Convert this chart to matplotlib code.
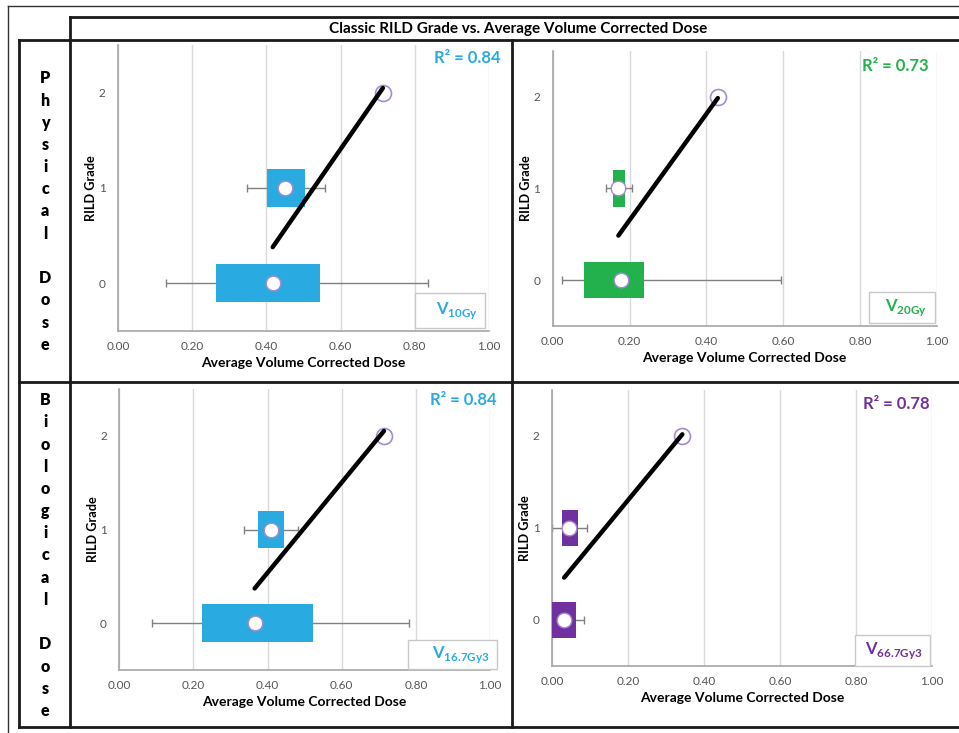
import numpy as np
import matplotlib.pyplot as plt
from matplotlib.patches import Rectangle

plt.rcParams['font.family'] = ['Lato', 'DejaVu Sans']
plt.rcParams['mathtext.fontset'] = 'custom'
plt.rcParams['mathtext.rm'] = 'Lato'
plt.rcParams['mathtext.bf'] = 'Lato:bold'

W, H = 959, 733

# RILD grades with a box (0, 1); grade 2 only has one patient mean
grades = [0, 1, 2]

# V10Gy, physical dose
v10_q1 = [0.264, 0.402]
v10_q3 = [0.544, 0.503]
v10_lo = [0.129, 0.349]
v10_hi = [0.835, 0.557]
v10_mean = [0.417, 0.451, 0.714]

# V20Gy, physical dose
v20_q1 = [0.081, 0.156]
v20_q3 = [0.238, 0.188]
v20_lo = [0.024, 0.138]
v20_hi = [0.595, 0.206]
v20_mean = [0.179, 0.171, 0.430]

# V16.7Gy3, biological dose
v167_q1 = [0.224, 0.373]
v167_q3 = [0.523, 0.443]
v167_lo = [0.087, 0.336]
v167_hi = [0.781, 0.481]
v167_mean = [0.365, 0.408, 0.714]

# V66.7Gy3, biological dose
v667_q1 = [0.0, 0.025]
v667_q3 = [0.062, 0.068]
v667_lo = [0.0, 0.0]
v667_hi = [0.083, 0.091]
v667_mean = [0.032, 0.044, 0.343]

r2_labels = ['0.84', '0.73', '0.84', '0.78']
dose_names = ['10Gy', '20Gy', '16.7Gy3', '66.7Gy3']
row_names = ['Physical Dose', 'Biological Dose']

blue = '#29ABE2'
green = '#22B14C'
purple = '#7030A0'
edge_purple = '#A58BD3'

fig = plt.figure(figsize=(W / 100, H / 100), dpi=100)

# background layer in pixel units for the table frame
bg = fig.add_axes([0, 0, 1, 1])
bg.set_xlim(0, W)
bg.set_ylim(H, 0)
bg.axis('off')

lc = '#1a1a1a'
bg.plot([8, 8], [6, H], color='#333333', lw=1)
bg.plot([8, W], [6, 6], color='#333333', lw=1)
for xs, ys in [([70, W], [17, 17]), ([19, W], [40, 40]), ([19, W], [382, 382]),
               ([19, W], [727, 727]), ([70, 70], [17, 727]), ([19, 19], [40, 727]),
               ([512, 512], [40, 727])]:
    bg.plot(xs, ys, color=lc, lw=2, solid_capstyle='projecting')

bg.text(518, 29, 'Classic RILD Grade vs. Average Volume Corrected Dose',
        ha='center', va='center', fontsize=11, fontweight='bold')

# stacked letters for the row headers
for name, yc in zip(row_names, [211.5, 555.5]):
    n = len(name)
    for i, ch in enumerate(name):
        if ch == ' ':
            continue
        y = yc + (i - (n - 1) / 2) * 22.2
        bg.text(45, y, ch, ha='center', va='center', fontsize=11.5, fontweight='heavy')


def px_axes(x0, x1, y0, y1):
    return fig.add_axes([x0 / W, 1 - y1 / H, (x1 - x0) / W, (y1 - y0) / H])


panels = [
    dict(rect=(118, 489, 45, 331), q1=v10_q1, q3=v10_q3, lo=v10_lo, hi=v10_hi,
         mean=v10_mean, color=blue, r2=r2_labels[0], name=dose_names[0],
         r2pos=(1.03, 0.955), box=(0.80, 0.01, 0.19, 0.123)),
    dict(rect=(552.7, 936.7, 50.7, 326), q1=v20_q1, q3=v20_q3, lo=v20_lo, hi=v20_hi,
         mean=v20_mean, color=green, r2=r2_labels[1], name=dose_names[1],
         r2pos=(0.98, 0.945), box=(0.824, 0.01, 0.171, 0.114)),
    dict(rect=(119.3, 490, 389, 670), q1=v167_q1, q3=v167_q3, lo=v167_lo, hi=v167_hi,
         mean=v167_mean, color=blue, r2=r2_labels[2], name=dose_names[2],
         r2pos=(1.018, 0.96), box=(0.78, 0.004, 0.238, 0.103)),
    dict(rect=(552, 932, 390, 666), q1=v667_q1, q3=v667_q3, lo=v667_lo, hi=v667_hi,
         mean=v667_mean, color=purple, r2=r2_labels[3], name=dose_names[3],
         r2pos=(0.995, 0.95), box=(0.797, 0.0, 0.198, 0.112)),
]

for p in panels:
    ax = px_axes(*p['rect'])
    ax.set_xlim(0, 1)
    ax.set_ylim(-0.5, 2.5)
    ax.set_xticks(np.arange(0, 1.01, 0.2))
    ax.set_xticklabels(['%.2f' % t for t in np.arange(0, 1.01, 0.2)])
    ax.set_yticks(grades)
    ax.tick_params(length=0, labelsize=8.5, labelcolor='#555555')
    ax.tick_params(axis='y', pad=9)
    ax.tick_params(axis='x', pad=7)
    ax.grid(axis='x', color='#D9D9D9', lw=1)
    ax.set_axisbelow(True)
    for s in ['top', 'right']:
        ax.spines[s].set_visible(False)
    for s in ['left', 'bottom']:
        ax.spines[s].set_color('#A6A6A6')
        ax.spines[s].set_linewidth(1.2)
    ax.patch.set_alpha(0)

    mean = np.array(p['mean'])
    q1 = np.array(p['q1'])
    q3 = np.array(p['q3'])
    lo = np.array(p['lo'])
    hi = np.array(p['hi'])
    g = np.array(grades[:2])

    # whiskers, then the interquartile box on top
    ax.errorbar(mean[:2], g, xerr=[mean[:2] - lo, hi - mean[:2]], fmt='none',
                ecolor='#808080', elinewidth=1, capsize=3, capthick=1, zorder=2)
    ax.barh(g, q3 - q1, left=q1, height=0.4, color=p['color'], zorder=3)
    ax.plot(mean, grades, 'o', ms=10.5, mfc='white', mec=edge_purple, mew=1, zorder=4)
    ax.plot(mean[2], grades[2], 'o', ms=11.5, mfc='white', mec=edge_purple, mew=1.2, zorder=4)

    # linear trendline through the grade means
    k, b = np.polyfit(mean, grades, 1)
    xs = np.array([mean.min(), mean.max()])
    ax.plot(xs, k * xs + b, color='black', lw=3.2, solid_capstyle='round', zorder=5)

    ax.set_xlabel('Average Volume Corrected Dose', fontsize=10, fontweight='bold', labelpad=4)
    ax.set_ylabel('RILD Grade', fontsize=9.2, fontweight='bold', labelpad=1)

    ax.text(p['r2pos'][0], p['r2pos'][1], 'R² = ' + p['r2'], transform=ax.transAxes,
            ha='right', va='center', fontsize=12, fontweight='bold', color=p['color'],
            clip_on=False)
    bx, by, bw, bh = p['box']
    ax.add_patch(Rectangle((bx, by), bw, bh, transform=ax.transAxes, fill=True,
                           fc='white', ec='#C8C8C8', lw=1, zorder=6, clip_on=False))
    ax.text(bx + bw - 0.02, by + bh / 2, r'$\mathbf{V}_{\mathbf{%s}}$' % p['name'],
            transform=ax.transAxes, ha='right', va='center', fontsize=12,
            color=p['color'], zorder=7, clip_on=False)

fig.savefig('out.png', dpi=100)
